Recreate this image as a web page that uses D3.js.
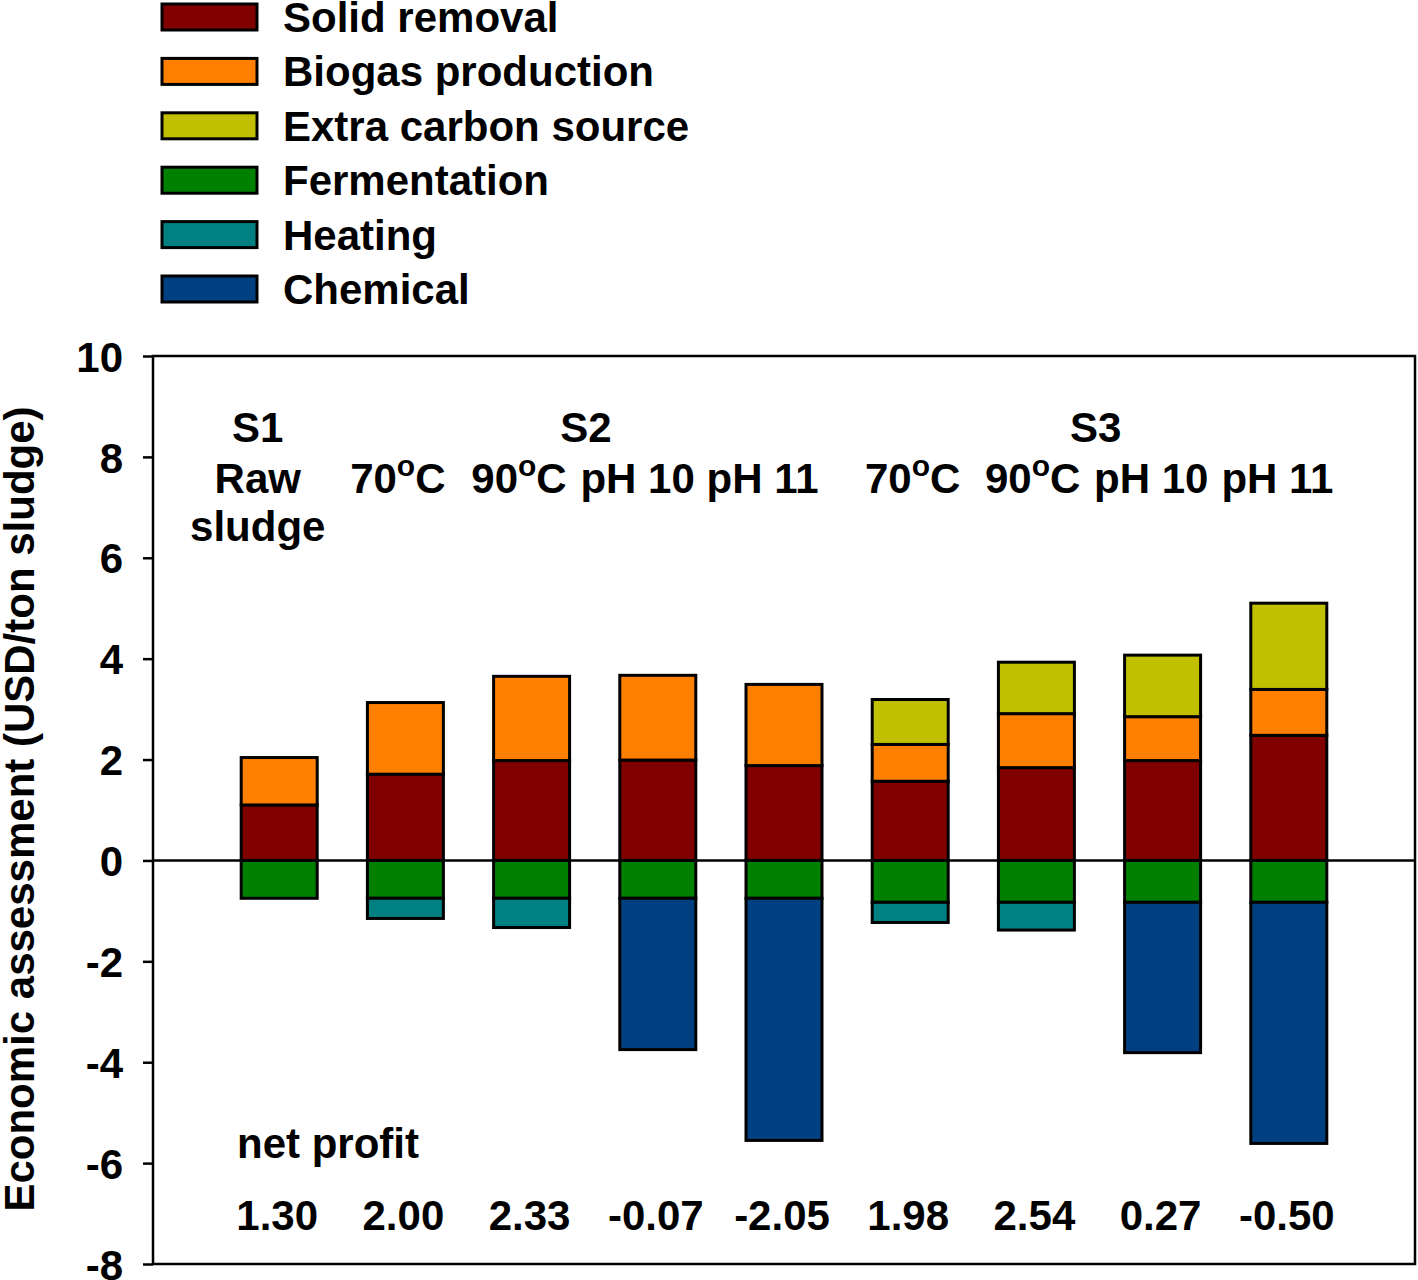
<!DOCTYPE html>
<html><head><meta charset="utf-8">
<script src="https://cdn.jsdelivr.net/npm/d3@7"></script>
<style>
html,body{margin:0;padding:0;background:#fff;}
text{font-family:"Liberation Sans",Arial,Helvetica,sans-serif;font-weight:bold;fill:#000;}
</style></head>
<body><svg id="c" width="1418" height="1280"></svg>
<script>
const categories = ["S1 Raw sludge","S2 70°C","S2 90°C","S2 pH 10","S2 pH 11","S3 70°C","S3 90°C","S3 pH 10","S3 pH 11"];
const solidRemoval = [1.10, 1.71, 1.98, 1.99, 1.88, 1.57, 1.84, 1.98, 2.48];
const biogasProduction = [0.94, 1.42, 1.67, 1.68, 1.61, 0.73, 1.07, 0.87, 0.91];
const extraCarbonSource = [0, 0, 0, 0, 0, 0.89, 1.02, 1.22, 1.71];
const fermentation = [-0.75, -0.75, -0.75, -0.75, -0.75, -0.83, -0.83, -0.83, -0.83];
const heating = [0, -0.40, -0.58, 0, 0, -0.40, -0.55, 0, 0];
const chemical = [0, 0, 0, -3.00, -4.80, 0, 0, -2.98, -4.78];
const netProfit = ["1.30","2.00","2.33","-0.07","-2.05","1.98","2.54","0.27","-0.50"];
const yTicks = [-8, -6, -4, -2, 0, 2, 4, 6, 8, 10];
const seriesNames = ["Solid removal","Biogas production","Extra carbon source","Fermentation","Heating","Chemical"];
const seriesColors = ["#800000","#FF8000","#C0C000","#008000","#008080","#004080"];
// header labels: [text, x position in bar units, row]
const groupLabels = [["S1",0.83,0],["Raw",0.83,1],["sludge",0.83,2],["S2",3.43,0],["S3",7.47,0]];
const condLabels = [["70","C",1.94],["90","C",2.9],["pH 10","",3.84],["pH 11","",4.83],["70","C",6.02],["90","C",6.97],["pH 10","",7.91],["pH 11","",8.91]];

const series = [solidRemoval, biogasProduction, extraCarbonSource, fermentation, heating, chemical];
const svg = d3.select("#c");
const L = 153, R = 1415, T = 356, B = 1264;
const FS = "42px";
const x = d3.scaleLinear().domain([0, 10]).range([L, R]);
const y = d3.scaleLinear().domain([-8, 10]).range([B, T]);
const barW = 76;

// build stacked segments
const segs = [];
categories.forEach((c, i) => {
  let pos = 0, neg = 0;
  series.forEach((s, k) => {
    const v = s[i];
    if (v === 0) return;
    if (v > 0) { segs.push({i, k, y0: pos, y1: pos + v}); pos += v; }
    else { segs.push({i, k, y0: neg, y1: neg + v}); neg += v; }
  });
});

// y axis
const ax = svg.append("g").attr("transform", `translate(${L},0)`)
  .call(d3.axisLeft(y).tickValues(yTicks).tickSize(10).tickPadding(20).tickFormat(d => String(d)));
ax.select(".domain").remove();
ax.selectAll(".tick line").attr("stroke", "#000").attr("stroke-width", 2.5);
ax.selectAll(".tick text").style("font-size", FS).attr("dy", "0.36em").attr("font-family", null);

// frame
svg.append("rect").attr("x", L).attr("y", T).attr("width", R - L).attr("height", B - T)
  .attr("fill", "none").attr("stroke", "#000").attr("stroke-width", 2.5);

// bars
svg.append("g").selectAll("rect").data(segs).join("rect")
  .attr("x", d => x(d.i + 1) - barW / 2)
  .attr("width", barW)
  .attr("y", d => y(Math.max(d.y0, d.y1)))
  .attr("height", d => Math.abs(y(d.y0) - y(d.y1)))
  .attr("fill", d => seriesColors[d.k])
  .attr("stroke", "#000").attr("stroke-width", 3);

// zero line
svg.append("line").attr("x1", L).attr("x2", R).attr("y1", y(0)).attr("y2", y(0))
  .attr("stroke", "#000").attr("stroke-width", 2.5);

// y title
svg.append("text").attr("transform", `translate(34,${(T + B) / 2 - 1}) rotate(-90)`)
  .attr("text-anchor", "middle").style("font-size", FS)
  .text("Economic assessment (USD/ton sludge)");

// legend
const lg = svg.append("g");
seriesNames.forEach((n, k) => {
  const cy = 17 + k * 54.4;
  lg.append("rect").attr("x", 162).attr("y", cy - 13).attr("width", 95).attr("height", 26)
    .attr("fill", seriesColors[k]).attr("stroke", "#000").attr("stroke-width", 3);
  lg.append("text").attr("x", 283).attr("y", cy + 15).style("font-size", FS).text(n);
});

// group labels
const rowY = [442, 493, 541];
groupLabels.forEach(([t, p, r]) => {
  svg.append("text").attr("x", x(p)).attr("y", rowY[r]).attr("text-anchor", "middle")
    .style("font-size", FS).text(t);
});
condLabels.forEach(([a, c, p]) => {
  const t = svg.append("text").attr("x", x(p)).attr("y", rowY[1]).attr("text-anchor", "middle")
    .style("font-size", FS);
  t.append("tspan").text(a);
  if (c) {
    t.append("tspan").attr("dy", -17).style("font-size", "30px").text("o");
    t.append("tspan").attr("dy", 17).text(c);
  }
});

// net profit
svg.append("text").attr("x", 237).attr("y", 1158).style("font-size", FS).text("net profit");
netProfit.forEach((v, i) => {
  svg.append("text").attr("x", x(i + 1) - 2).attr("y", 1230).attr("text-anchor", "middle")
    .style("font-size", FS).text(v);
});
</script></body></html>
